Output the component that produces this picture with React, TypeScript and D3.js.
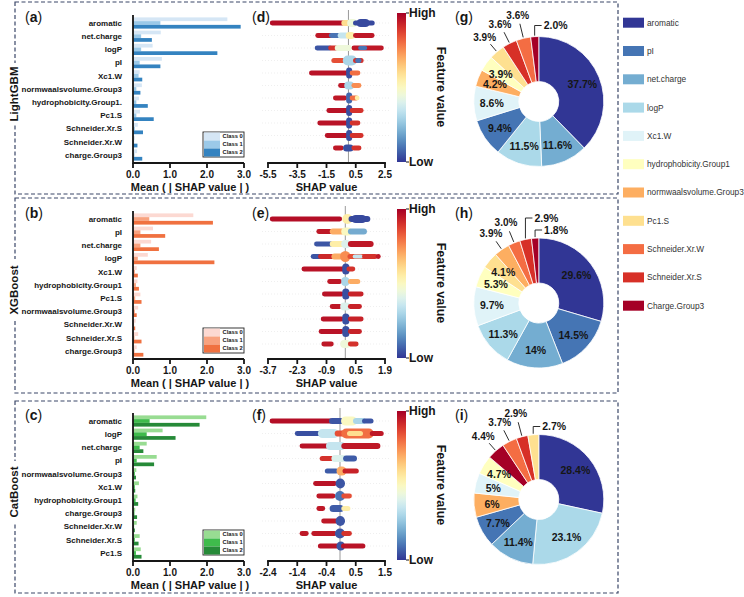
import * as d3 from 'd3';
import React from 'react';

const FONT = "'Liberation Sans', Arial, Helvetica, sans-serif";

const models = ['LightGBM', 'XGBoost', 'CatBoost'];
const classNames = ['Class 0', 'Class 1', 'Class 2'];

// feature order (top to bottom) for each model
const lgbFeatures = ['aromatic', 'net.charge', 'logP', 'pI', 'Xc1.W', 'normwaalsvolume.Group3', 'hydrophobicity.Group1.', 'Pc1.S', 'Schneider.Xr.S', 'Schneider.Xr.W', 'charge.Group3'];
const xgbFeatures = ['aromatic', 'pI', 'net.charge', 'logP', 'Xc1.W', 'hydrophobicity.Group1', 'Pc1.S', 'normwaalsvolume.Group3', 'Schneider.Xr.W', 'Schneider.Xr.S', 'charge.Group3'];
const catFeatures = ['aromatic', 'logP', 'net.charge', 'pI', 'normwaalsvolume.Group3', 'Xc1.W', 'hydrophobicity.Group1', 'charge.Group3', 'Schneider.Xr.W', 'Schneider.Xr.S', 'Pc1.S'];

// mean(|SHAP value|) per class
const lgbClass0 = [2.55, 0.75, 0.53, 0.78, 0.18, 0.24, 0.16, 0.19, 0.13, 0.05, 0.11];
const lgbClass1 = [0.74, 0.22, 0.22, 0.18, 0.15, 0.09, 0.09, 0.09, 0.05, 0.03, 0.04];
const lgbClass2 = [2.91, 0.51, 2.28, 0.74, 0.25, 0.2, 0.4, 0.56, 0.27, 0.12, 0.25];

const xgbClass0 = [1.63, 0.54, 0.49, 0.4, 0.1, 0.12, 0.2, 0.14, 0.07, 0.14, 0.1];
const xgbClass1 = [0.44, 0.2, 0.2, 0.13, 0.05, 0.08, 0.06, 0.05, 0.03, 0.04, 0.04];
const xgbClass2 = [2.16, 0.87, 0.7, 2.2, 0.13, 0.16, 0.23, 0.1, 0.06, 0.23, 0.28];

const catClass0 = [1.98, 0.8, 0.37, 0.64, 0.09, 0.16, 0.12, 0.06, 0.1, 0.18, 0.21];
const catClass1 = [0.45, 0.37, 0.18, 0.1, 0.05, 0.05, 0.07, 0.04, 0.03, 0.05, 0.08];
const catClass2 = [1.8, 1.15, 0.28, 0.57, 0.08, 0.06, 0.14, 0.11, 0.05, 0.15, 0.23];

// beeswarm streaks per feature: [shap from, shap to, feature value 0..1, density]
const lgbSwarm = [
  [[-5.24, -0.35, 0.97, 4.8], [-0.35, 0.1, 0.6, 6], [0.05, 0.45, 0.45, 8], [0.45, 1.66, 0.03, 5], [0.7, 1.3, 0.03, 8]],
  [[-2.13, -1.2, 0.95, 4.8], [-1.2, -0.6, 0.1, 4.8], [-0.6, -0.1, 0.35, 6], [-0.05, 0.3, 0.55, 7], [0.45, 1.65, 0.95, 4.8]],
  [[-2.17, -1.25, 0.05, 4.8], [-1.25, -0.8, 0.9, 4.8], [-0.8, 0.1, 0.45, 6], [0.35, 2.28, 0.95, 4.8], [0.8, 1.15, 0.1, 4]],
  [[-1.03, -0.35, 0.85, 5], [-0.25, 0.45, 0.3, 10], [0.45, 0.9, 0.9, 5], [0.6, 0.75, 0.1, 5]],
  [[-2.56, -0.12, 0.96, 4.8], [-0.02, 0.12, 0.04, 11], [0.22, 0.68, 0.8, 4.8]],
  [[-0.57, -0.12, 0.95, 4.8], [-0.15, 0.25, 0.3, 8], [0.34, 0.75, 0.75, 4.8]],
  [[-0.92, -0.23, 0.95, 4.8], [-0.02, 0.12, 0.08, 11], [0.22, 0.57, 0.8, 4.8], [0.57, 0.62, 0.55, 4.8]],
  [[-1.37, -0.12, 0.96, 4.8], [-0.02, 0.12, 0.04, 11], [0.22, 0.9, 0.9, 4.8]],
  [[-1.99, -0.12, 0.96, 4.8], [-0.02, 0.12, 0.04, 11], [0.22, 0.68, 0.9, 4.8]],
  [[-1.48, -0.12, 0.96, 4.8], [-0.02, 0.12, 0.04, 11], [0.22, 0.9, 0.9, 4.8]],
  [[-0.92, -0.46, 0.95, 4.8], [-0.23, 0.22, 0.04, 7], [0.34, 0.75, 0.9, 4.8]],
];

const xgbSwarm = [
  [[-3.52, -0.25, 0.97, 4.8], [-0.05, 0.25, 0.55, 10], [0.25, 1.1, 0.03, 6], [0.4, 0.9, 0.03, 8]],
  [[-1.29, -0.65, 0.95, 4.8], [-0.65, -0.1, 0.7, 6], [-0.1, 0.22, 0.5, 8], [0.22, 0.94, 0.2, 6]],
  [[-1.4, -0.65, 0.05, 4.8], [-0.65, -0.1, 0.55, 6], [-0.1, 0.15, 0.4, 8], [0.22, 1.26, 0.95, 6]],
  [[-1.56, -1.21, 0.05, 4.8], [-1.21, -0.57, 0.92, 4.8], [-0.57, -0.1, 0.7, 6], [-0.15, 0.15, 0.75, 11], [0.2, 0.9, 0.85, 5], [0.45, 0.75, 0.35, 4], [0.9, 1.45, 0.9, 4.8], [1.55, 1.6, 0.95, 4.8]],
  [[-2.0, -0.1, 0.96, 4.8], [-0.05, 0.1, 0.04, 11], [0.15, 0.38, 0.9, 4.8]],
  [[-0.77, -0.25, 0.95, 4.8], [-0.1, 0.1, 0.3, 9], [0.22, 0.62, 0.7, 5]],
  [[-1.02, -0.17, 0.96, 4.8], [-0.05, 0.1, 0.04, 11], [0.22, 0.78, 0.93, 4.8]],
  [[-0.65, -0.25, 0.95, 4.8], [-0.15, 0.15, 0.4, 8], [0.22, 0.7, 0.93, 4.8]],
  [[-1.08, -0.17, 0.96, 4.8], [-0.05, 0.1, 0.04, 11], [0.22, 0.78, 0.93, 4.8]],
  [[-1.18, -0.17, 0.96, 4.8], [-0.05, 0.1, 0.04, 11], [0.22, 0.7, 0.93, 4.8]],
  [[-1.05, -0.65, 0.95, 4.8], [-0.15, 0.15, 0.45, 8], [0.22, 0.54, 0.9, 4.8]],
];

const catSwarm = [
  [[-2.28, -0.3, 0.97, 4.8], [-0.3, 0.05, 0.05, 6], [0.1, 0.5, 0.5, 9], [0.5, 0.8, 0.3, 6], [0.8, 1.05, 0.05, 5]],
  [[-1.44, -0.67, 0.04, 4.8], [-0.67, -0.11, 0.35, 9], [-0.11, 0.11, 0.85, 6], [0.11, 1.06, 0.8, 10], [0.3, 0.7, 0.6, 5], [1.06, 1.39, 0.95, 5]],
  [[-1.28, -0.4, 0.96, 4.8], [-0.4, 0.11, 0.35, 8], [0.11, 1.28, 0.95, 6]],
  [[-0.61, -0.22, 0.9, 5], [-0.22, 0.15, 0.4, 7], [0.17, 0.5, 0.06, 6]],
  [[-0.44, -0.11, 0.06, 5], [-0.05, 0.15, 0.7, 9], [0.15, 0.56, 0.93, 5]],
  [[-0.83, -0.17, 0.96, 4.8], [-0.08, 0.1, 0.05, 10]],
  [[-0.72, -0.22, 0.95, 4.8], [-0.1, 0.1, 0.1, 10], [0.11, 0.33, 0.85, 4.8]],
  [[-0.72, -0.56, 0.95, 4.8], [-0.28, 0.06, 0.06, 7], [0.11, 0.28, 0.55, 5]],
  [[-0.56, -0.11, 0.95, 4.8], [-0.08, 0.1, 0.05, 10]],
  [[-1.28, -1.11, 0.95, 4.8], [-0.89, -0.17, 0.95, 4.8], [-0.1, 0.1, 0.05, 10], [0.11, 0.33, 0.9, 4.8]],
  [[-0.67, -0.05, 0.96, 5], [-0.05, 0.1, 0.05, 9], [0.1, 0.78, 0.96, 5]],
];

const lgbDomain = [-5.5, 2.5];
const xgbDomain = [-3.7, 1.9];
const catDomain = [-2.4, 1.5];
const lgbTicks = ['-5.5', '-3.5', '-1.5', '0.5', '2.5'];
const xgbTicks = ['-3.7', '-2.3', '-0.9', '0.5', '1.9'];
const catTicks = ['-2.4', '-1.4', '-0.4', '0.5', '1.5'];

// share of total importance (%)
const lgbShare = ['37.7', '11.6', '11.5', '9.4', '8.6', '4.2', '3.9', '3.9', '3.6', '3.6', '2.0'];
const lgbShareKeys = ['aromatic', 'net.charge', 'logP', 'pI', 'Xc1.W', 'normwaalsvolume.Group3', 'hydrophobicity.Group1', 'Pc1.S', 'Schneider.Xr.S', 'Schneider.Xr.W', 'Charge.Group3'];
const xgbShare = ['29.6', '14.5', '14', '11.3', '9.7', '5.3', '4.1', '3.9', '3.0', '2.9', '1.8'];
const xgbShareKeys = ['aromatic', 'pI', 'net.charge', 'logP', 'Xc1.W', 'hydrophobicity.Group1', 'Pc1.S', 'normwaalsvolume.Group3', 'Schneider.Xr.W', 'Schneider.Xr.S', 'Charge.Group3'];
const catShare = ['28.4', '23.1', '11.4', '7.7', '6', '5', '4.7', '4.4', '3.7', '2.9', '2.7'];
const catShareKeys = ['aromatic', 'logP', 'net.charge', 'pI', 'normwaalsvolume.Group3', 'Xc1.W', 'hydrophobicity.Group1', 'Charge.Group3', 'Schneider.Xr.W', 'Schneider.Xr.S', 'Pc1.S'];

const legendKeys = ['aromatic', 'pI', 'net.charge', 'logP', 'Xc1.W', 'hydrophobicity.Group1', 'normwaalsvolume.Group3', 'Pc1.S', 'Schneider.Xr.W', 'Schneider.Xr.S', 'Charge.Group3'];
const legendColors = ['#313695', '#4575b4', '#74add1', '#abd9e9', '#e0f3f8', '#ffffbf', '#fdae61', '#fee090', '#f46d43', '#d73027', '#a50026'];

const blues = ['#d5e6f5', '#9bc9e8', '#3483c0'];
const oranges = ['#fcd9d2', '#f8a27f', '#f07140'];
const greens = ['#98dc92', '#3fbb4c', '#268a38'];

const sliceColor = d3.scaleOrdinal<string, string>().domain(legendKeys).range(legendColors);
const featureColor = (v: number) => d3.interpolateRdYlBu(1 - v);

const rows = [
  { top: 0, box: [2, 194], letters: ['a', 'd', 'g'], features: lgbFeatures, bars: [lgbClass0, lgbClass1, lgbClass2], palette: blues, swarm: lgbSwarm, domain: lgbDomain, ticks: lgbTicks, share: lgbShare, keys: lgbShareKeys, cy: 101.5, lifts: [76] },
  { top: 196, box: [198, 393], letters: ['b', 'e', 'h'], features: xgbFeatures, bars: [xgbClass0, xgbClass1, xgbClass2], palette: oranges, swarm: xgbSwarm, domain: xgbDomain, ticks: xgbTicks, share: xgbShare, keys: xgbShareKeys, cy: 303, lifts: [85, 73] },
  { top: 398, box: [401, 593], letters: ['c', 'f', 'i'], features: catFeatures, bars: [catClass0, catClass1, catClass2], palette: greens, swarm: catSwarm, domain: catDomain, ticks: catTicks, share: catShare, keys: catShareKeys, cy: 499.5, lifts: [73] },
];

const ink = '#161616';

function Letter({ x, y, l }) {
  return (
    <text x={x} y={y} fontSize={14} fill={ink}>
      (<tspan fontWeight="bold">{l}</tspan>)
    </text>
  );
}

function BarPanel({ top, features, values, colors }) {
  const x = d3.scaleLinear().domain([0, 3]).range([133, 244]);
  const y = d3.scalePoint<string>().domain(features).range([top + 23, top + 155]);
  const sub = d3.scaleBand<number>().domain([0, 1, 2]).range([-5.6, 5.6]);
  const axisY = top + 163;
  return (
    <g>
      {features.map((f, i) => (
        <g key={f}>
          <text x={122} y={y(f)} dy="0.35em" textAnchor="end" fontSize={8} fontWeight="bold" fill={ink}>
            {f}
          </text>
          {values.map((vals, c) => (
            <rect key={c} x={x(0)} y={y(f) + sub(c)} width={x(vals[i]) - x(0)} height={sub.bandwidth()} fill={colors[c]} />
          ))}
        </g>
      ))}
      <path d={`M${x(0)},${top + 15}V${axisY}H${x(3)}`} fill="none" stroke={ink} strokeWidth={1.8} />
      {x.ticks(3).map((t) => (
        <g key={t}>
          <line x1={x(t)} x2={x(t)} y1={axisY} y2={axisY + 5} stroke={ink} strokeWidth={1.8} />
          <text x={x(t)} y={top + 177.5} textAnchor="middle" fontSize={10} fontWeight="bold" fill={ink}>
            {d3.format('.1f')(t)}
          </text>
        </g>
      ))}
      <text x={190} y={top + 190.5} textAnchor="middle" fontSize={11} fontWeight="bold" fill={ink}>
        Mean ( | SHAP value | )
      </text>
      <g transform={`translate(203,${top + 132})`}>
        <rect x={0} y={0} width={41} height={25} fill="#fff" stroke="#222" strokeWidth={0.9} />
        {classNames.map((c, i) => (
          <g key={c}>
            <rect x={1} y={0.5 + i * 8} width={16} height={8} fill={colors[i]} />
            <text x={19.5} y={5.6 + i * 8} fontSize={5.8} fontWeight="bold" fill={ink}>
              {c}
            </text>
          </g>
        ))}
      </g>
    </g>
  );
}

function SwarmPanel({ top, features, runs, domain, ticks }) {
  const x = d3.scaleLinear().domain(domain).range([268, 385]);
  const y = d3.scalePoint<string>().domain(features).range([top + 23, top + 148]);
  const tickVals = d3.range(5).map((i) => domain[0] + (i * (domain[1] - domain[0])) / 4);
  const axisY = top + 163;
  return (
    <g>
      {features.map((f) => (
        <line key={f} x1={262} x2={390} y1={y(f)} y2={y(f)} stroke="#e4e4e4" strokeWidth={0.6} strokeDasharray="1 2" />
      ))}
      <line x1={x(0)} x2={x(0)} y1={top + 10} y2={axisY} stroke="#9a9a9a" strokeWidth={1} />
      {runs.map((row, i) =>
        row.map(([a, b, v, d], j) => {
          const w = x(b) - x(a) + 4;
          return (
            <rect
              key={`${i}-${j}`}
              x={x(a) - 2}
              y={y(features[i]) - d / 2}
              width={w}
              height={d}
              rx={Math.min(w, d) / 2}
              fill={featureColor(v)}
            />
          );
        }),
      )}
      <line x1={x(domain[0]) - 0.9} x2={x(domain[1]) + 0.9} y1={axisY} y2={axisY} stroke={ink} strokeWidth={1.8} />
      {tickVals.map((t, i) => (
        <g key={i}>
          <line x1={x(t)} x2={x(t)} y1={axisY} y2={axisY + 5} stroke={ink} strokeWidth={1.8} />
          <text x={x(t)} y={top + 177.5} textAnchor="middle" fontSize={10} fontWeight="bold" fill={ink}>
            {ticks[i]}
          </text>
        </g>
      ))}
      <text x={326.5} y={top + 190.5} textAnchor="middle" fontSize={11} fontWeight="bold" fill={ink}>
        SHAP value
      </text>
      {/* colour bar */}
      <rect x={397} y={top + 13} width={9} height={149} fill="url(#fv)" />
      <line x1={406} x2={409} y1={top + 13} y2={top + 13} stroke={ink} strokeWidth={1} />
      <line x1={406} x2={409} y1={top + 162} y2={top + 162} stroke={ink} strokeWidth={1} />
      <text x={409} y={top + 17} fontSize={12} fontWeight="bold" fill={ink}>High</text>
      <text x={409} y={top + 166} fontSize={12} fontWeight="bold" fill={ink}>Low</text>
      <text transform={`translate(437,${top + 87}) rotate(90)`} textAnchor="middle" fontSize={12.5} fontWeight="bold" fill={ink}>
        Feature value
      </text>
    </g>
  );
}

function Donut({ cy, share, keys, lifts }) {
  const cx = 538.8;
  const R = 65;
  const values = share.map(Number);
  const arcs = d3.pie<number>().sort(null).value((d) => d)(values);
  const arc = d3.arc<d3.PieArcDatum<number>>().innerRadius(20).outerRadius(R);
  const n = values.length;
  const elbowFrom = n - lifts.length;
  const outsideFrom = n - 4;
  const at = (a: number, r: number) => [cx + r * Math.sin(a), cy - r * Math.cos(a)];
  return (
    <g>
      <g transform={`translate(${cx},${cy})`}>
        {arcs.map((s, i) => (
          <path key={i} d={arc(s)} fill={sliceColor(keys[i])} stroke="#fff" strokeWidth={0.8} />
        ))}
      </g>
      {arcs.map((s, i) => {
        const mid = (s.startAngle + s.endAngle) / 2;
        const label = `${share[i]}%`;
        const style = { fontSize: 10.5, fontWeight: 'bold', fill: ink } as const;
        if (i >= elbowFrom) {
          const [px, py] = at(mid, R + 1);
          const ly = cy - lifts[i - elbowFrom];
          return (
            <g key={i}>
              <path d={`M${px},${py}V${ly}H${px + 7}`} fill="none" stroke={ink} strokeWidth={0.9} />
              <text x={px + 9} y={ly} dy="0.35em" {...style}>{label}</text>
            </g>
          );
        }
        if (i >= outsideFrom) {
          // outer labels step outward so neighbouring ones do not collide
          const rl = 84 + 2.5 * (i - outsideFrom);
          const [x1, y1] = at(mid, R + 1);
          const [x2, y2] = at(mid, rl - 9);
          const [tx, ty] = at(mid, rl);
          return (
            <g key={i}>
              <line x1={x1} y1={y1} x2={x2} y2={y2} stroke={ink} strokeWidth={0.9} />
              <text x={tx} y={ty} dy="0.35em" textAnchor="middle" {...style} fontSize={10}>{label}</text>
            </g>
          );
        }
        const [tx, ty] = at(mid, 47);
        return (
          <text key={i} x={tx} y={ty} dy="0.38em" textAnchor="middle" {...style}>
            {label}
          </text>
        );
      })}
    </g>
  );
}

export default function App() {
  return (
    <svg
      width={744}
      height={597}
      viewBox="0 0 744 597"
      style={{ position: 'absolute', left: 0, top: 0, background: '#fff' }}
      fontFamily={FONT}
    >
      <defs>
        <linearGradient id="fv" x1="0" y1="1" x2="0" y2="0">
          {d3.range(0, 1.001, 0.05).map((t) => (
            <stop key={t} offset={t} stopColor={featureColor(t)} />
          ))}
        </linearGradient>
      </defs>
      <rect width={744} height={597} fill="#fff" />
      {rows.map((r, k) => (
        <g key={k}>
          <rect x={15} y={r.box[0]} width={603} height={r.box[1] - r.box[0]} fill="none" stroke="#3a4768" strokeWidth={1.2} strokeDasharray="4 2.5" />
          <rect x={6} y={r.top + 94 - 31} width={14} height={62} fill="#fff" />
          <text transform={`translate(18,${r.top + 94}) rotate(-90)`} textAnchor="middle" fontSize={11.5} fontWeight="bold" fill={ink}>
            {models[k]}
          </text>
          <Letter x={25} y={r.top + 22} l={r.letters[0]} />
          <Letter x={252} y={r.top + 22} l={r.letters[1]} />
          <Letter x={455} y={r.top + 22} l={r.letters[2]} />
          <BarPanel top={r.top} features={r.features} values={r.bars} colors={r.palette} />
          <SwarmPanel top={r.top} features={r.features} runs={r.swarm} domain={r.domain} ticks={r.ticks} />
          <Donut cy={r.cy} share={r.share} keys={r.keys} lifts={r.lifts} />
        </g>
      ))}
      {legendKeys.map((k, i) => (
        <g key={k} transform={`translate(623,${22.7 + i * 28.3})`}>
          <rect x={0} y={-5} width={21} height={10} fill={legendColors[i]} />
          <text x={24} y={0} dy="0.35em" fontSize={8.3} fill="#333">
            {k}
          </text>
        </g>
      ))}
    </svg>
  );
}
